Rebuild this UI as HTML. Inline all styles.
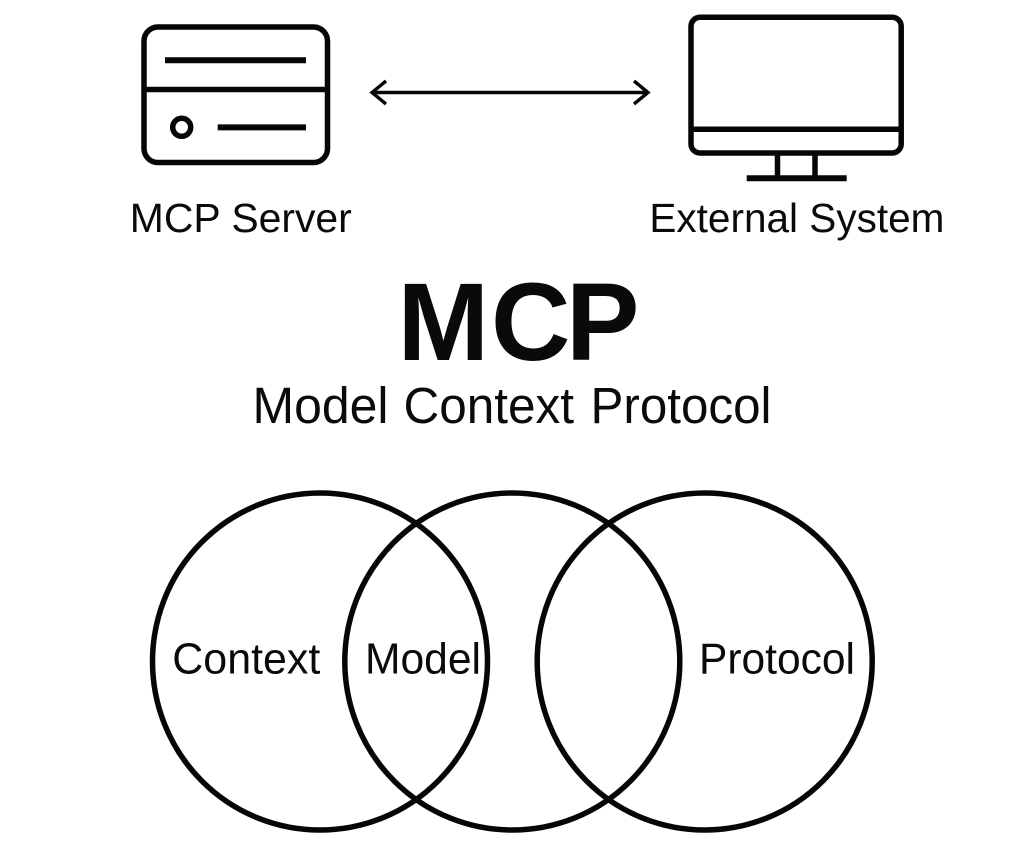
<!DOCTYPE html>
<html>
<head>
<meta charset="utf-8">
<style>
html,body{margin:0;padding:0;background:#fff;width:1024px;height:847px;overflow:hidden}
svg{display:block}
text{font-family:"Liberation Sans",sans-serif;fill:#0a0a0a}
</style>
</head>
<body>
<svg width="1024" height="847" viewBox="0 0 1024 847" xmlns="http://www.w3.org/2000/svg">
<g fill="none" stroke="#060606" stroke-width="5.5">
<rect x="144" y="27" width="183.500" height="135.500" rx="14"/>
<line x1="144" y1="89.500" x2="327.500" y2="89.500"/>
<line x1="165" y1="60.300" x2="306" y2="60.300" stroke-width="6"/>
<circle cx="181.700" cy="127.300" r="9"/>
<line x1="217.700" y1="127.400" x2="306" y2="127.400" stroke-width="6"/>
<rect x="691" y="17.300" width="210.200" height="135.700" rx="9"/>
<line x1="691" y1="129.300" x2="901.200" y2="129.300"/>
<line x1="777.500" y1="153" x2="777.500" y2="178"/>
<line x1="815" y1="153" x2="815" y2="178"/>
<line x1="746.700" y1="178.300" x2="846.700" y2="178.300" stroke-width="6"/>
</g>
<g fill="none" stroke="#060606" stroke-width="3.400">
<line x1="372" y1="92.500" x2="648" y2="92.500"/>
<polyline points="386,81 372,92.500 386,104"/>
<polyline points="634,81 648,92.500 634,104"/>
</g>
<g fill="none" stroke="#060606" stroke-width="5.500">
<ellipse cx="320" cy="661.500" rx="167.500" ry="168.500"/>
<ellipse cx="512.300" cy="661.500" rx="167.500" ry="168.500"/>
<ellipse cx="704.700" cy="661.500" rx="167.500" ry="168.500"/>
</g>
<text x="129.800" y="232" font-size="41" textLength="222" lengthAdjust="spacingAndGlyphs">MCP Server</text>
<text x="649.400" y="232" font-size="41" textLength="295" lengthAdjust="spacingAndGlyphs">External System</text>
<text x="397.500 491 566" y="360" font-size="110" font-weight="700">MCP</text>
<text y="423" font-size="51"><tspan x="252.500" textLength="136" lengthAdjust="spacingAndGlyphs">Model</tspan> <tspan x="403.500" textLength="170.500" lengthAdjust="spacingAndGlyphs">Context</tspan> <tspan x="590.500" textLength="181" lengthAdjust="spacingAndGlyphs">Protocol</tspan></text>
<text x="172.300" y="673.300" font-size="43.500" textLength="148" lengthAdjust="spacingAndGlyphs">Context</text>
<text x="365" y="673.300" font-size="43.500" textLength="116" lengthAdjust="spacingAndGlyphs">Model</text>
<text x="699" y="673.300" font-size="43.500" textLength="156" lengthAdjust="spacingAndGlyphs">Protocol</text>
</svg>
</body>
</html>
